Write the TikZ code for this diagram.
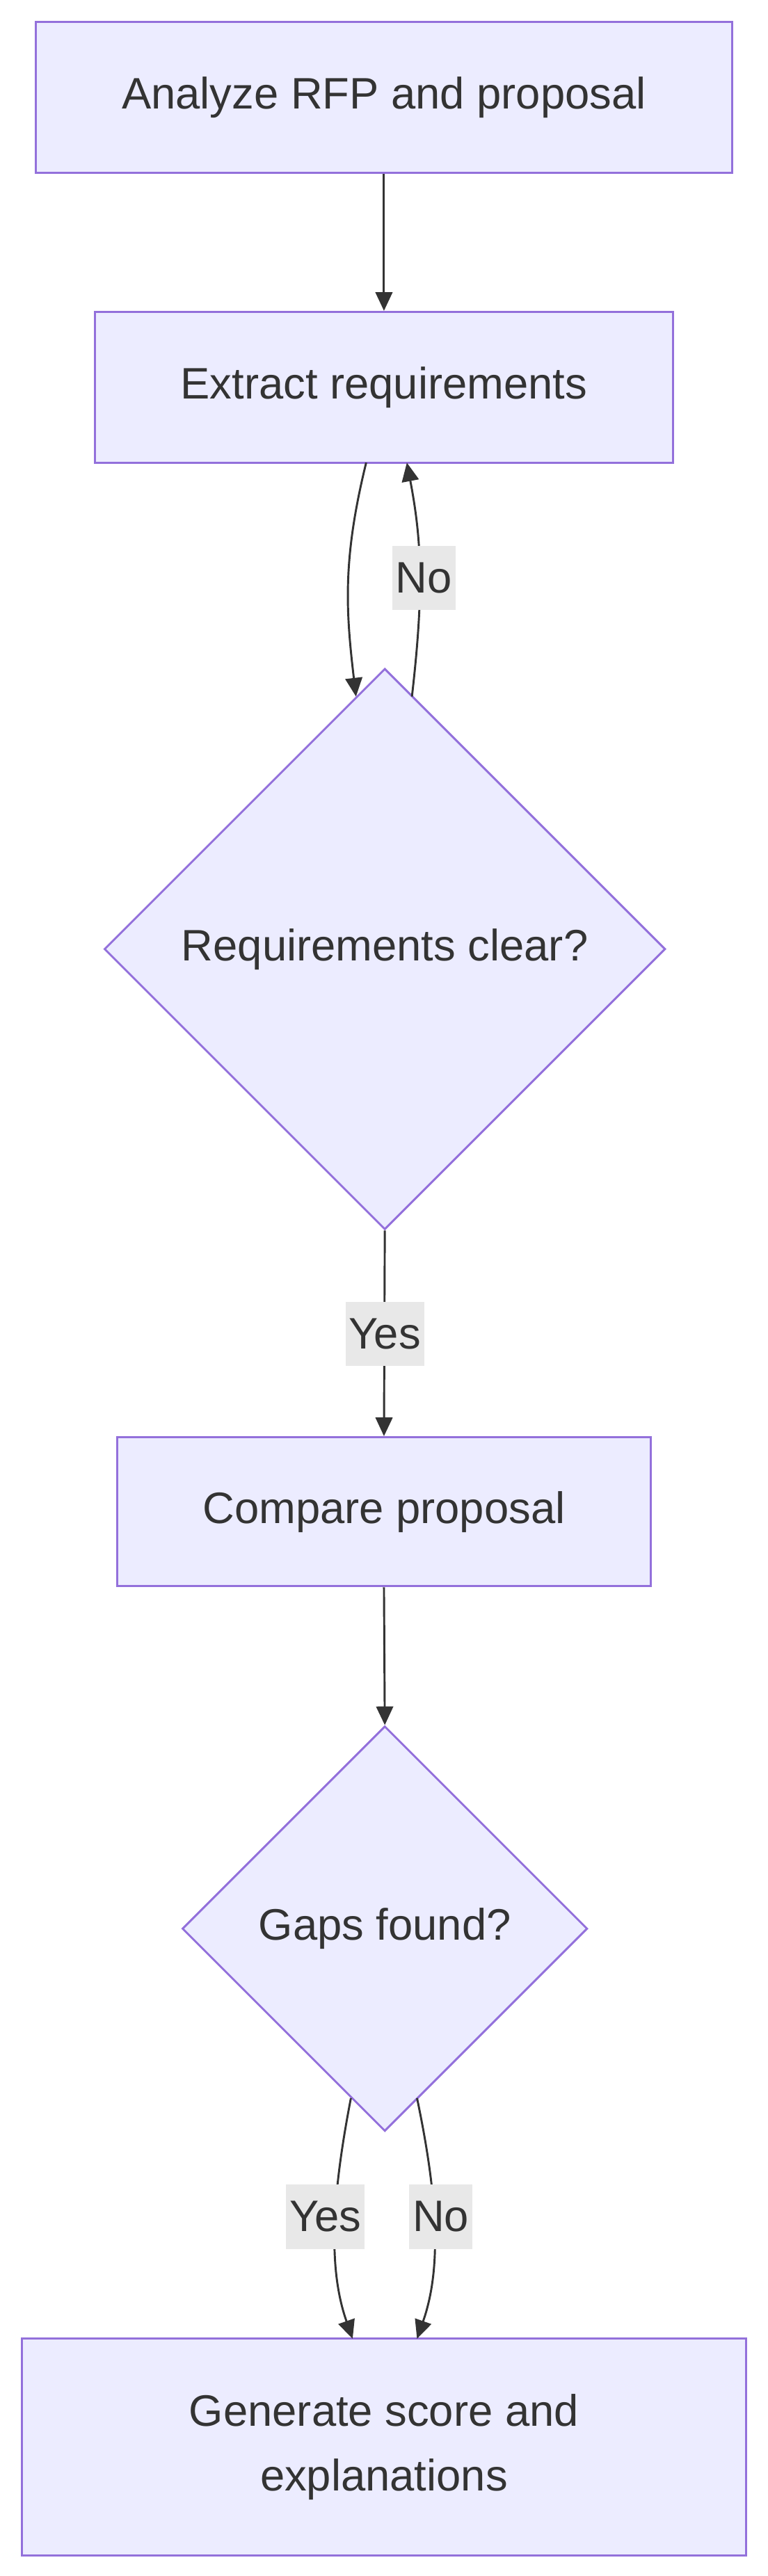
\documentclass[tikz,border=0pt]{standalone}
\usepackage{fontspec}
\setmainfont{Liberation Sans}
\usetikzlibrary{shapes.geometric,arrows.meta}
\definecolor{nfill}{HTML}{ECECFF}
\definecolor{nstroke}{HTML}{9370DB}
\definecolor{txt}{HTML}{333333}
\definecolor{lbl}{HTML}{E8E8E8}
\begin{document}
\begin{tikzpicture}[x=1pt,y=-1pt,
  box/.style={draw=nstroke,fill=nfill,line width=1.2pt,text=txt,font=\fontsize{26}{38}\selectfont,align=center,inner sep=0pt},
  dia/.style={draw=nstroke,fill=nfill,line width=1.2pt,diamond,aspect=1,text=txt,font=\fontsize{26}{30}\selectfont,inner sep=0pt},
  arr/.style={draw=txt,line width=1.2pt,-{Triangle[length=11pt,width=10pt]}},
  lab/.style={fill=lbl,text=txt,font=\fontsize{26}{30}\selectfont,inner sep=2pt,minimum height=38pt}]
\useasboundingbox (0,0) rectangle (453,1520);
\node[box,minimum width=411pt,minimum height=89pt] (a) at (226.5,57.5) {Analyze RFP and proposal};
\node[box,minimum width=341pt,minimum height=89pt] (b) at (226.5,228.5) {Extract requirements};
\node[dia,minimum width=331pt,minimum height=331pt] (c) at (227,560) {Requirements clear?};
\node[box,minimum width=315pt,minimum height=88pt] (d) at (226.5,892) {Compare proposal};
\node[dia,minimum width=239pt,minimum height=239pt] (e) at (227,1138) {Gaps found?};
\node[box,minimum width=427pt,minimum height=128pt] (f) at (226.5,1444) {Generate score and\\explanations};
\draw[arr] (a.south) -- (b.north);
\coordinate (b1) at (216,273); \coordinate (c1) at (210,411);
\coordinate (c2) at (243,411); \coordinate (b2) at (240,273);
\draw[arr] (b1) .. controls (202,330) and (204,360) .. (c1);
\draw[arr] (c2) .. controls (250,350) and (249,320) .. (b2);
\node[lab] (lno1) at (250,341) {No};
\draw[arr] (c.south) -- (d.north);
\node[lab] (lyes1) at (227,787) {Yes};
\draw[arr] (d.south) -- (e.north);
\coordinate (e1) at (207,1238); \coordinate (f1) at (208,1380);
\coordinate (e2) at (246,1238); \coordinate (f2) at (246,1380);
\draw[arr] (e1) .. controls (195,1300) and (194,1340) .. (f1);
\draw[arr] (e2) .. controls (259,1300) and (260,1340) .. (f2);
\node[lab] (lyes2) at (192,1308) {Yes};
\node[lab] (lno2) at (260,1308) {No};
\end{tikzpicture}
\end{document}
